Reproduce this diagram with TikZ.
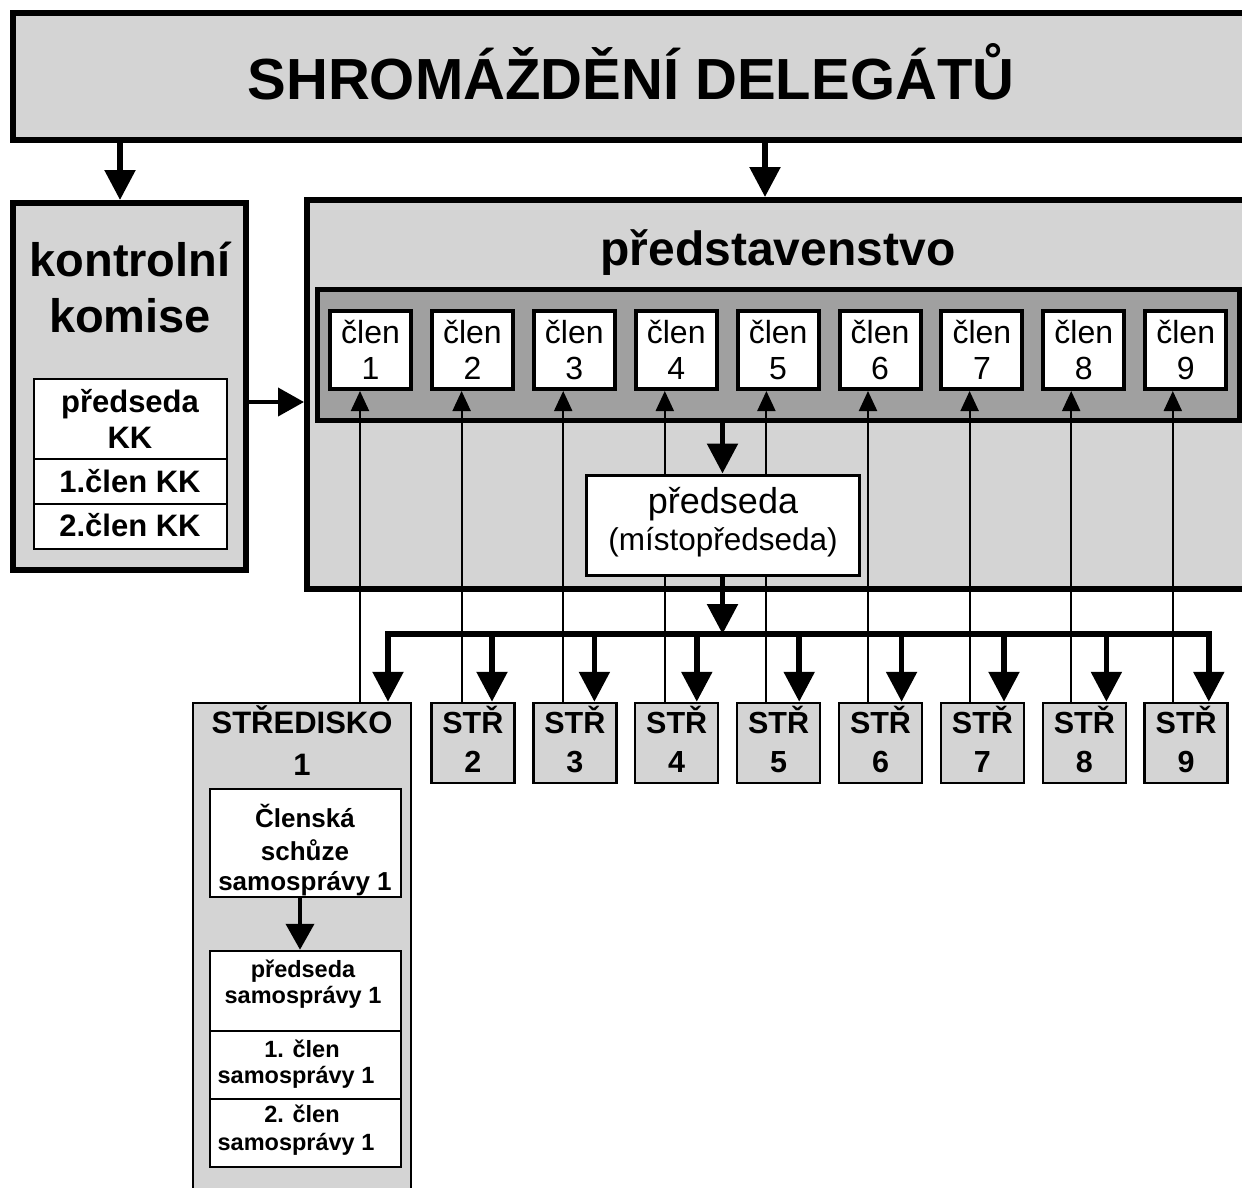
\documentclass[tikz,border=0pt]{standalone}
\usepackage{fontspec}
\setmainfont{Liberation Sans}
\usetikzlibrary{arrows.meta,calc}
\definecolor{lightfill}{HTML}{D4D4D4}
\definecolor{darkfill}{HTML}{A0A0A0}
\newcommand\fsz[1]{\fontsize{#1}{#1}\selectfont}
\tikzset{
  outerbox/.style={rectangle, draw, line width=6pt, fill=lightfill, inner sep=0pt},
  bandbox/.style={rectangle, draw, line width=5pt, fill=darkfill, inner sep=0pt},
  clenbox/.style={rectangle, draw, line width=4pt, fill=white, inner sep=0pt, minimum width=81pt, minimum height=78pt},
  strbox/.style={rectangle, draw, line width=2.5pt, fill=lightfill, inner sep=0pt, minimum width=83pt, minimum height=80pt},
  cellbox/.style={rectangle, draw, line width=2.5pt, fill=white, inner sep=0pt},
  predbox/.style={rectangle, draw, line width=3pt, fill=white, inner sep=0pt},
  txt/.style={anchor=base, inner sep=0pt, outer sep=0pt},
  bigarr/.style={line width=5.5pt, -{Triangle[length=30pt,width=30pt]}},
  midarr/.style={line width=4pt, -{Triangle[length=26pt,width=28pt]}},
  thinarr/.style={line width=2pt, -{Triangle[length=20pt,width=18pt]}},
  busline/.style={line width=5.5pt, line cap=rect},
}
\begin{document}
\begin{tikzpicture}[x=1pt,y=-1pt]
\clip (0,0) rectangle (1242,1188);
\fill[white] (0,0) rectangle (1242,1188);

% top box
\node[outerbox, minimum width=1287pt, minimum height=127pt] (top) at (656.5,76.5) {};
\node[txt, font=\fsz{58}\bfseries] (title) at (631,100) {SHROMÁŽDĚNÍ DELEGÁTŮ};

% kontrolni komise
\node[outerbox, minimum width=233pt, minimum height=367pt] (kk) at (129.5,386.5) {};
\node[txt, font=\fsz{47}\bfseries] (kkA) at (130,276) {kontrolní};
\node[txt, font=\fsz{47}\bfseries] (kkB) at (130,332) {komise};
\node[cellbox, minimum width=193pt, minimum height=80pt] (kkp) at (130.5,419) {};
\node[cellbox, minimum width=193pt, minimum height=45pt] (kk1) at (130.5,481.5) {};
\node[cellbox, minimum width=193pt, minimum height=45pt] (kk2) at (130.5,526.5) {};
\node[txt, font=\fsz{31}\bfseries] (kkpA) at (130,412) {předseda};
\node[txt, font=\fsz{31}\bfseries] (kkpB) at (130,448) {KK};
\node[txt, font=\fsz{31}\bfseries] (kk1t) at (130,492) {1.člen KK};
\node[txt, font=\fsz{31}\bfseries] (kk2t) at (130,536) {2.člen KK};

% predstavenstvo
\node[outerbox, minimum width=993pt, minimum height=389pt] (pred) at (803.5,394.5) {};
\node[txt, font=\fsz{48}\bfseries] (predt) at (778,265) {představenstvo};
\node[bandbox, minimum width=922pt, minimum height=131pt] (band) at (778,354.5) {};

\foreach \i in {1,...,9}{
  \pgfmathsetmacro\cx{370.5+(\i-1)*101.9}
  \node[clenbox] (clen\i) at (\cx,350) {};
  \node[txt, font=\fsz{32}] (clenA\i) at (\cx,343) {člen};
  \node[txt, font=\fsz{32}] (clenB\i) at (\cx,379) {\i};
}

% strediska
\node[outerbox, line width=2.5pt, minimum width=218pt, minimum height=597pt] (str1) at (302,1001.5) {};
\node[txt, font=\fsz{31}\bfseries] (str1A) at (302,733) {STŘEDISKO};
\node[txt, font=\fsz{31}\bfseries] (str1B) at (302,775) {1};
\foreach \i in {2,...,9}{
  \pgfmathsetmacro\cx{371+(\i-1)*101.9}
  \node[strbox] (str\i) at (\cx,743) {};
  \node[txt, font=\fsz{30.5}\bfseries] (strA\i) at (\cx,733) {STŘ};
  \node[txt, font=\fsz{30.5}\bfseries] (strB\i) at (\cx,772) {\i};
}

\node[cellbox, minimum width=191pt, minimum height=108pt] (schuze) at (305.5,843) {};
\node[txt, font=\fsz{26}\bfseries] (schA) at (305,827) {Členská};
\node[txt, font=\fsz{26}\bfseries] (schB) at (305,860) {schůze};
\node[txt, font=\fsz{26}\bfseries] (schC) at (305,890) {samosprávy 1};

\node[cellbox, minimum width=191pt, minimum height=80pt] (psam) at (305.5,991) {};
\node[cellbox, minimum width=191pt, minimum height=68pt] (c1sam) at (305.5,1065) {};
\node[cellbox, minimum width=191pt, minimum height=68pt] (c2sam) at (305.5,1133) {};
\node[txt, font=\fsz{23.5}\bfseries] (psamA) at (303,977) {předseda};
\node[txt, font=\fsz{23.5}\bfseries] (psamB) at (303,1003) {samosprávy 1};
\node[txt, font=\fsz{23.5}\bfseries] (c1samA) at (302,1057) {1. člen};
\node[txt, font=\fsz{23.5}\bfseries] (c1samB) at (296,1083) {samosprávy 1};
\node[txt, font=\fsz{23.5}\bfseries] (c2samA) at (302,1122) {2. člen};
\node[txt, font=\fsz{23.5}\bfseries] (c2samB) at (296,1150) {samosprávy 1};

% thin lines from strediska to clen
\foreach \i in {1,...,9}{
  \coordinate (t\i) at ({360+(\i-1)*101.6},400);
  \draw[thinarr] (t\i |- str\i.north) -- (t\i |- clen\i.south);
}

% predseda
\node[predbox, minimum width=273pt, minimum height=100pt] (predseda) at (722.5,525) {};
\node[txt, font=\fsz{36}] (predsedaA) at (723,513) {předseda};
\node[txt, font=\fsz{31.5}] (predsedaB) at (723,550) {(místopředseda)};

% thick arrows
\coordinate (a1) at (120,0);
\coordinate (a2) at (765,0);
\draw[bigarr] (a1 |- top.south) -- (a1 |- kk.north);
\draw[bigarr] (a2 |- top.south) -- (a2 |- pred.north);
\coordinate (a3) at (0,402);
\draw[midarr] (a3 -| kk.east) -- (a3 -| pred.west);
\draw[bigarr] (band.south -| predseda.north) -- (predseda.north);

% bus
\coordinate (d1) at (388,634);
\foreach \i in {2,...,9}{
  \coordinate (d\i) at ({492+(\i-2)*102.4},634);
}
\draw[bigarr] (predseda.south) -- (predseda.south |- d1);
\draw[busline] (d1) -- (d9);
\foreach \i in {1,...,9}{
  \draw[bigarr] (d\i) -- (d\i |- str\i.north);
}
\coordinate (s1) at (300,0);
\draw[midarr] (s1 |- schuze.south) -- (s1 |- psam.north);
\end{tikzpicture}
\end{document}
